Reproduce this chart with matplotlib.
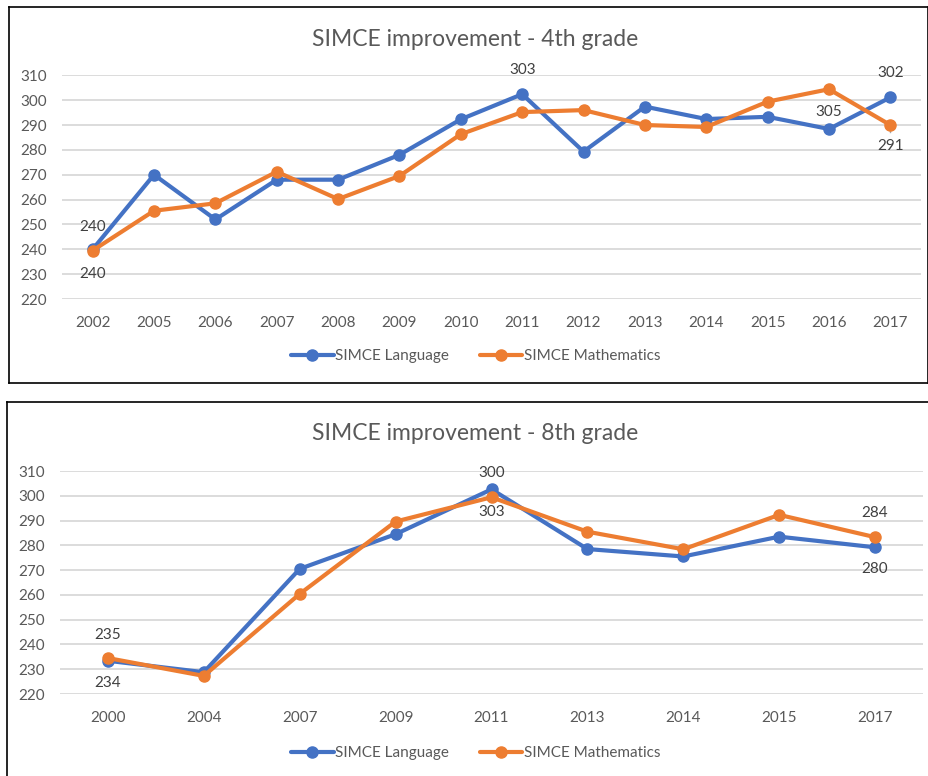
import numpy as np
import matplotlib
matplotlib.use("Agg")
import matplotlib.pyplot as plt
from matplotlib.lines import Line2D

plt.rcParams['font.family'] = ['Lato', 'DejaVu Sans']

# 4th grade
years_4 = ["2002", "2005", "2006", "2007", "2008", "2009", "2010",
           "2011", "2012", "2013", "2014", "2015", "2016", "2017"]
lang_4 = [240, 270, 252, 268, 268, 278, 292.3, 302.4, 279.3, 297.4, 292.4, 293.3, 288.4, 301.1]
math_4 = [239.5, 255.5, 258.5, 271.2, 260.2, 269.5, 286.3, 295.2, 296, 290, 289.2, 299.4, 304.4, 290]
# labels: (series, index, text, offset in px)
labels_4 = [("lang", 0, "240", 22), ("math", 0, "240", -23),
            ("lang", 7, "303", 24), ("math", 12, "305", -23),
            ("lang", 13, "302", 24), ("math", 13, "291", -21)]

# 8th grade
years_8 = ["2000", "2004", "2007", "2009", "2011", "2013", "2014", "2015", "2017"]
lang_8 = [233.4, 228.8, 270.5, 284.5, 302.6, 278.5, 275.5, 283.5, 279.2]
math_8 = [234.5, 227.3, 260.4, 289.6, 299.4, 285.5, 278.4, 292.3, 283.3]
labels_8 = [("math", 0, "235", 23), ("lang", 0, "234", -22),
            ("lang", 4, "300", 16), ("math", 4, "303", -15),
            ("math", 8, "284", 24), ("lang", 8, "280", -22)]

blue = "#4472C4"
orange = "#ED7D31"
grey_txt = "#595959"

W, H = 929, 776
fig = plt.figure(figsize=(W / 100, H / 100), dpi=100)


def px_axes(x0, y0, x1, y1):
    return fig.add_axes([x0 / W, 1 - y1 / H, (x1 - x0) / W, (y1 - y0) / H])


def draw(ax, years, lang, math, labels, title, title_y, legend_y):
    x = np.arange(len(years))
    ax.plot(x, lang, color=blue, lw=3.0, marker="o", ms=8, label="SIMCE Language",
            solid_capstyle="round", zorder=3)
    ax.plot(x, math, color=orange, lw=3.0, marker="o", ms=8, label="SIMCE Mathematics",
            solid_capstyle="round", zorder=3)
    ax.set_xlim(-0.5, len(years) - 0.5)
    ax.set_ylim(220, 310)
    ax.set_yticks(np.arange(220, 311, 10))
    ax.set_xticks(x)
    ax.set_xticklabels(years)
    ax.grid(axis="y", color="#D9D9D9", lw=1.3)
    ax.set_axisbelow(True)
    for s in ax.spines.values():
        s.set_visible(False)
    ax.tick_params(length=0, labelsize=11, colors=grey_txt)
    ax.tick_params(axis="y", pad=11)
    ax.tick_params(axis="x", pad=12)
    series = {"lang": lang, "math": math}
    for key, i, txt, off in labels:
        ax.annotate(txt, (x[i], series[key][i]), xytext=(0, off),
                    textcoords="offset pixels", ha="center", va="center",
                    fontsize=11, color="#404040", zorder=4)
    fig.text(0.511, 1 - title_y / H, title, ha="center", va="center",
             fontsize=16.5, color=grey_txt)
    fig.legend(*ax.get_legend_handles_labels(), loc="center",
               bbox_to_anchor=(0.512, 1 - legend_y / H), ncol=2, frameon=False,
               fontsize=11, handlelength=2.8, handletextpad=0.1, columnspacing=2.0,
               labelcolor=grey_txt)


ax1 = px_axes(62, 75.3, 921, 299)
draw(ax1, years_4, lang_4, math_4, labels_4, "SIMCE improvement - 4th grade", 40, 356)
# small leader line at 2017
ax1.plot([13, 13], [math_4[13] - 0.5, math_4[13] - 3], color="#A6A6A6", lw=1, zorder=2)

ax2 = px_axes(60, 471, 923, 694)
draw(ax2, years_8, lang_8, math_8, labels_8, "SIMCE improvement - 8th grade", 433, 753)

# panel borders
def seg(x0, y0, x1, y1):
    fig.add_artist(Line2D([x0 / W, x1 / W], [1 - y0 / H, 1 - y1 / H], color="black", lw=1.2))

seg(9, 7, 928, 7)
seg(9, 7, 9, 383)
seg(9, 383, 928, 383)
seg(928, 7, 928, 383)
seg(7, 402, 929, 402)
seg(7, 402, 7, 776)

fig.savefig("out.png", dpi=100)
